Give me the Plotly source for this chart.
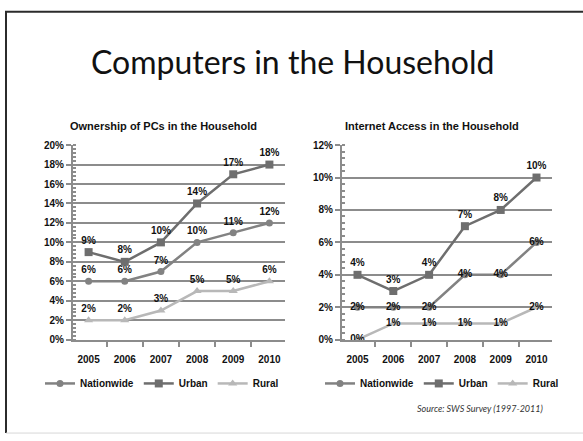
import plotly.graph_objects as go

# Survey years shared by both panels
years = ["2005", "2006", "2007", "2008", "2009", "2010"]

# Ownership of PCs in the household (share of households)
pc_nationwide = [0.06, 0.06, 0.07, 0.10, 0.11, 0.12]
pc_urban = [0.09, 0.08, 0.10, 0.14, 0.17, 0.18]
pc_rural = [0.02, 0.02, 0.03, 0.05, 0.05, 0.06]

# Internet access in the household (share of households)
net_nationwide = [0.02, 0.02, 0.02, 0.04, 0.04, 0.06]
net_urban = [0.04, 0.03, 0.04, 0.07, 0.08, 0.10]
net_rural = [0.00, 0.01, 0.01, 0.01, 0.01, 0.02]

series_names = ["Nationwide", "Urban", "Rural"]
series_colors = ["#828282", "#6e6e6e", "#b8b8b8"]
series_symbols = ["circle", "square", "triangle-up"]
series_sizes = [7, 8, 8]

FONT = "Liberation Sans"
GRID = "#8c8c8c"

fig = go.Figure()


def add_panel(values, xaxis, yaxis, legend, positions):
    for name, vals, color, sym, size, pos in zip(
        series_names, values, series_colors, series_symbols, series_sizes, positions
    ):
        fig.add_trace(
            go.Scatter(
                x=years,
                y=vals,
                name=name,
                mode="lines+markers+text",
                text=[f"{round(v * 100)}%" for v in vals],
                textposition=pos,
                textfont=dict(family=FONT, size=10, color="#111111", weight="bold"),
                line=dict(color=color, width=2.5),
                marker=dict(color=color, symbol=sym, size=size),
                xaxis=xaxis,
                yaxis=yaxis,
                legend=legend,
                cliponaxis=False,
                hoverinfo="skip",
            )
        )


add_panel([pc_nationwide, pc_urban, pc_rural], "x", "y", "legend",
          ["top center", "top center", "top center"])
add_panel([net_nationwide, net_urban, net_rural], "x2", "y2", "legend2",
          ["middle center", "top center", "middle center"])

xaxis_style = dict(
    type="category",
    tickson="boundaries",
    ticks="outside",
    ticklen=5,
    tickwidth=1.5,
    tickcolor=GRID,
    ticklabelstandoff=9,
    showgrid=False,
    showline=True,
    linecolor=GRID,
    linewidth=2,
    tickfont=dict(family=FONT, size=10, color="#111111", weight="bold"),
    fixedrange=True,
)


def yaxis_style(top, minor_step):
    return dict(
        range=[0, top],
        dtick=0.02,
        tickformat=".0%",
        showgrid=True,
        gridcolor=GRID,
        gridwidth=2,
        zeroline=False,
        showline=True,
        linecolor=GRID,
        linewidth=2,
        ticks="outside",
        ticklen=5,
        tickwidth=1.5,
        tickcolor=GRID,
        minor=dict(dtick=minor_step, ticks="inside", ticklen=3, tickcolor=GRID, showgrid=False),
        tickfont=dict(family=FONT, size=10, color="#111111", weight="bold"),
        fixedrange=True,
    )


legend_style = dict(
    orientation="h",
    xanchor="center",
    yanchor="middle",
    y=1 - 388 / 441,
    font=dict(family=FONT, size=10, color="#111111", weight="bold"),
    itemwidth=30,
    bgcolor="rgba(0,0,0,0)",
    tracegroupgap=0,
)

fig.update_layout(
    width=583,
    height=441,
    margin=dict(l=0, r=0, t=0, b=0),
    paper_bgcolor="white",
    plot_bgcolor="white",
    showlegend=True,
    xaxis=dict(domain=[73 / 583, 285 / 583], anchor="y", **xaxis_style),
    yaxis=dict(domain=[1 - 343 / 441, 1 - 143 / 441], anchor="x", **yaxis_style(0.20, 0.004)),
    xaxis2=dict(domain=[342 / 583, 552 / 583], anchor="y2", **xaxis_style),
    yaxis2=dict(domain=[1 - 343 / 441, 1 - 143 / 441], anchor="x2", **yaxis_style(0.12, 0.004)),
    legend=dict(x=162 / 583, **legend_style),
    legend2=dict(x=442 / 583, **legend_style),
)

# Slide title, panel titles and source note
fig.add_annotation(
    text="Computers in the Household", x=292 / 583, y=1 - 57 / 441,
    xref="paper", yref="paper", showarrow=False, xanchor="center", yanchor="middle",
    font=dict(family="Lato", size=32, color="#111111"),
)
fig.add_annotation(
    text="Ownership of PCs in the Household", x=163 / 583, y=1 - 123 / 441,
    xref="paper", yref="paper", showarrow=False, xanchor="center", yanchor="middle",
    font=dict(family=FONT, size=11, color="#111111", weight="bold"),
)
fig.add_annotation(
    text="Internet Access in the Household", x=432 / 583, y=1 - 123 / 441,
    xref="paper", yref="paper", showarrow=False, xanchor="center", yanchor="middle",
    font=dict(family=FONT, size=11, color="#111111", weight="bold"),
)
fig.add_annotation(
    text="<i>Source: SWS Survey (1997-2011)</i>", x=545 / 583, y=1 - 414 / 441,
    xref="paper", yref="paper", showarrow=False, xanchor="right", yanchor="middle",
    font=dict(family="Lato", size=9, color="#333333"),
)

# Slide frame
fig.add_shape(type="line", xref="paper", yref="paper",
              x0=5 / 583, x1=1, y0=1 - 6 / 441, y1=1 - 6 / 441,
              line=dict(color="#2b2b2b", width=2))
fig.add_shape(type="line", xref="paper", yref="paper",
              x0=6 / 583, x1=6 / 583, y0=1 - 6 / 441, y1=1 - 439 / 441,
              line=dict(color="#2b2b2b", width=2))
fig.add_shape(type="line", xref="paper", yref="paper",
              x0=6 / 583, x1=1, y0=1 - 439 / 441, y1=1 - 439 / 441,
              line=dict(color="#d8d8d8", width=1))

fig.write_html("out.html")
